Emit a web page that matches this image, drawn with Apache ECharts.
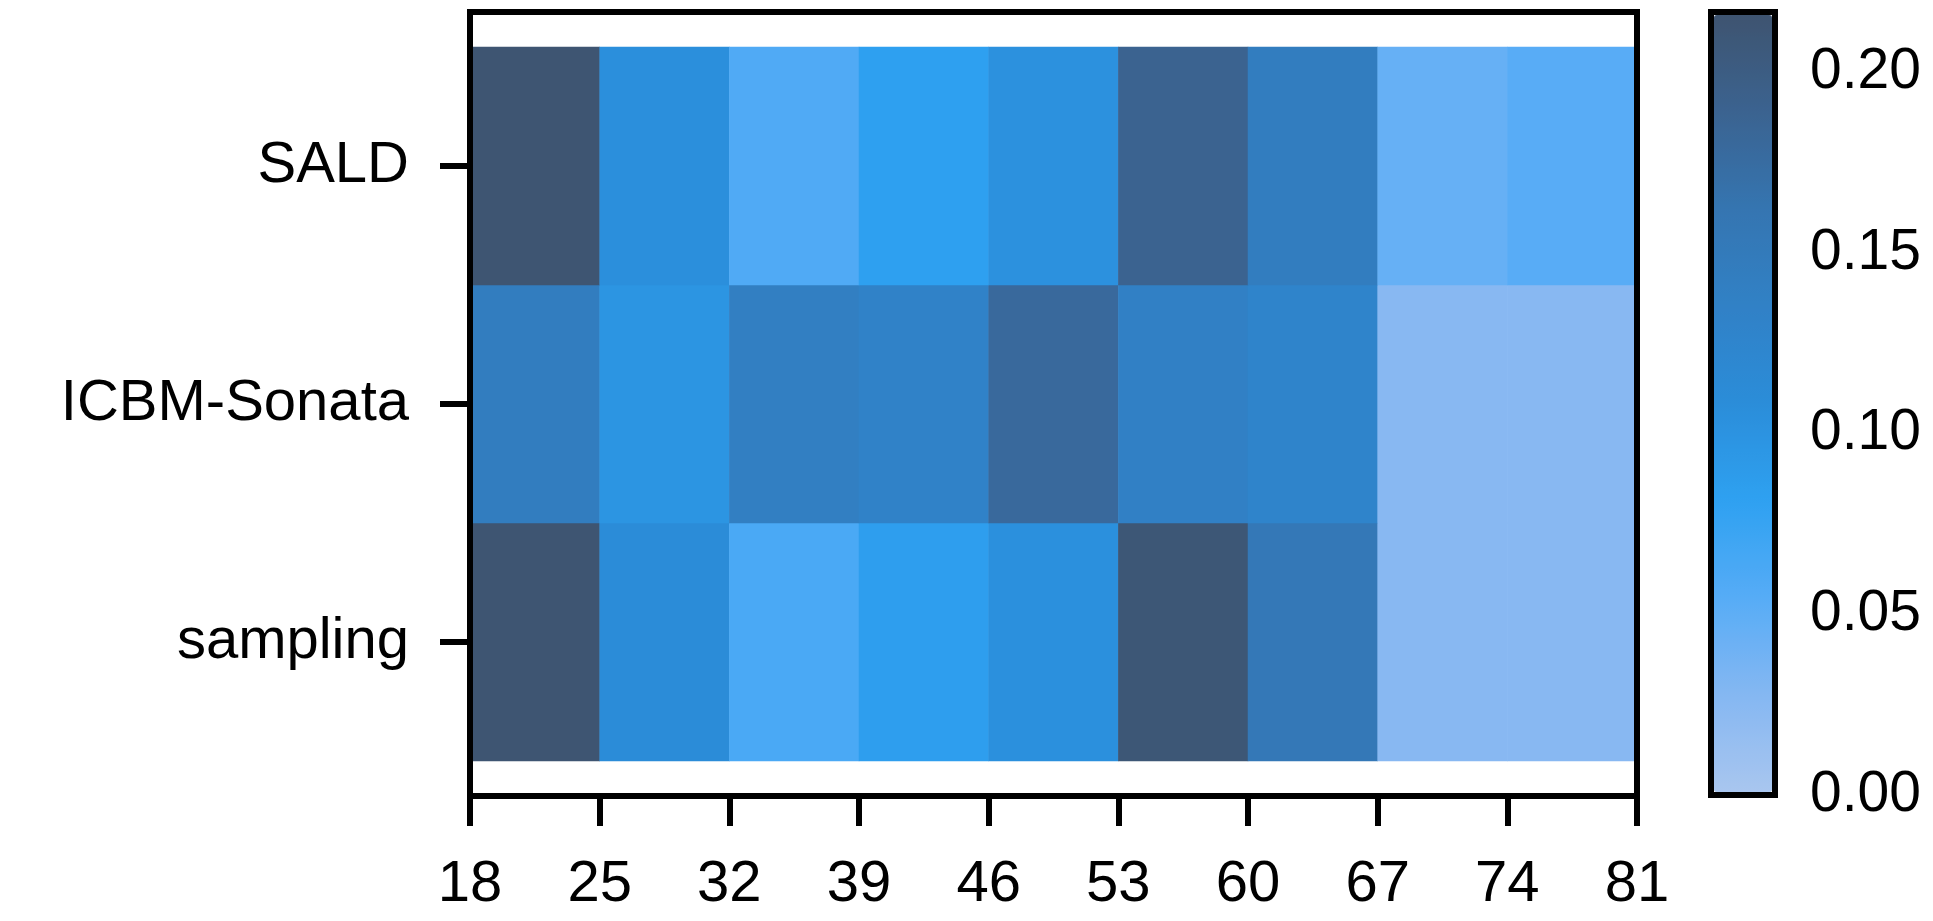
<!DOCTYPE html>
<html>
<head>
<meta charset="utf-8">
<title>heatmap</title>
<script src="https://cdn.jsdelivr.net/npm/echarts@6/dist/echarts.min.js"></script>
<style>
  html, body { margin: 0; padding: 0; background: #fff; }
  #main { width: 1933px; height: 921px; }
</style>
</head>
<body>
<div id="main"></div>
<script>
// 年龄分段（x 轴刻度）
const ages = [18, 25, 32, 39, 46, 53, 60, 67, 74, 81]
// 行（从下到上）
const rows = ['sampling', 'ICBM-Sonata', 'SALD']
// 每一行 9 个格子的值
const samplingVals = [0.215, 0.110, 0.062, 0.085, 0.104, 0.212, 0.155, 0.025, 0.025]
const icbmVals = [0.145, 0.098, 0.140, 0.133, 0.180, 0.137, 0.128, 0.025, 0.025]
const saldVals = [0.215, 0.105, 0.058, 0.082, 0.103, 0.190, 0.145, 0.045, 0.053]
// 色条刻度
const barTicks = [0, 0.05, 0.1, 0.15, 0.2]
const barMax = 0.2167

const bins = ages.slice(0, -1).map((a, i) => a + '-' + ages[i + 1])
const rowVals = [samplingVals, icbmVals, saldVals]
const data = []
rowVals.forEach((vals, r) => {
  vals.forEach((v, c) => data.push([c, r, v]))
})

const font = 'Liberation Sans, Arial, Helvetica, sans-serif'
const lineW = 6

const chart = echarts.init(document.getElementById('main'))
chart.setOption({
  animation: false,
  grid: [
    // 外框 + x 轴
    { left: 470, top: 12, width: 1167, height: 784, show: true, borderColor: '#000', borderWidth: lineW, z: 10 },
    // 热力图区域
    { left: 470, top: 47, width: 1167, height: 714 },
    // 色条
    { left: 1711, top: 12, width: 64, height: 783, show: true, borderColor: '#000', borderWidth: lineW, z: 10 }
  ],
  xAxis: [
    {
      gridIndex: 0,
      type: 'value',
      min: 18,
      max: 81,
      splitLine: { show: false },
      axisLine: { show: false },
      axisTick: { show: true, length: 30, customValues: ages, lineStyle: { color: '#000', width: lineW } },
      axisLabel: { customValues: ages, color: '#000', fontSize: 58, fontFamily: font, margin: 60 }
    },
    {
      gridIndex: 1,
      type: 'category',
      data: bins,
      show: false
    },
    {
      gridIndex: 2,
      type: 'value',
      show: false
    }
  ],
  yAxis: [
    {
      gridIndex: 0,
      type: 'value',
      min: 0,
      max: 1,
      show: false
    },
    {
      gridIndex: 1,
      type: 'category',
      data: rows,
      axisLine: { show: false },
      axisTick: { show: true, alignWithLabel: true, length: 30, lineStyle: { color: '#000', width: lineW } },
      axisLabel: { color: '#000', fontSize: 58, fontFamily: font, margin: 61 },
      splitLine: { show: false }
    },
    {
      gridIndex: 2,
      type: 'value',
      position: 'right',
      min: 0,
      max: barMax,
      splitLine: { show: false },
      axisLine: { show: false },
      axisTick: { show: true, length: 27, customValues: barTicks, lineStyle: { color: '#000', width: lineW } },
      axisLabel: {
        customValues: barTicks,
        color: '#000',
        fontSize: 57,
        fontFamily: font,
        margin: 35,
        formatter: (v) => v.toFixed(2)
      }
    }
  ],
  visualMap: {
    type: 'continuous',
    seriesIndex: 0,
    dimension: 2,
    min: 0,
    max: barMax,
    calculable: false,
    hoverLink: false,
    orient: 'vertical',
    left: 1714,
    top: 15,
    itemWidth: 58,
    itemHeight: 777,
    padding: 0,
    inRange: {
      color: ['#a9c6ef', '#85b7f2', '#56acf6', '#2ea1f1', '#2b8dd9', '#3181c6', '#3575b1', '#3b6390', '#3e5470']
    }
  },
  series: [
    {
      type: 'heatmap',
      xAxisIndex: 1,
      yAxisIndex: 1,
      data: data,
      itemStyle: { borderWidth: 0 },
      emphasis: { disabled: true }
    }
  ]
})
</script>
</body>
</html>
